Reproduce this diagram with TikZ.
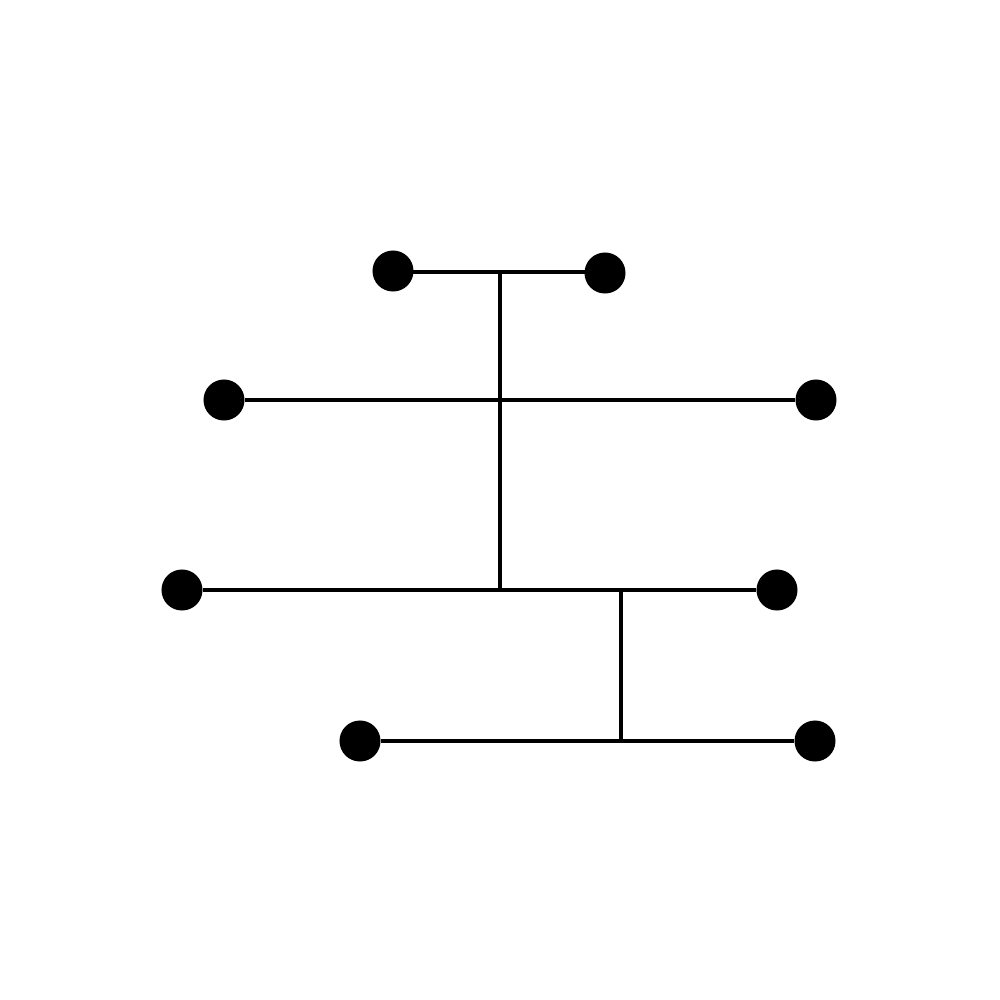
\documentclass[tikz,border=0pt]{standalone}
\usepackage{tikz}
\usetikzlibrary{positioning}
\tikzstyle{dot} = [circle, fill=black, draw=none, minimum size=0.41cm, inner sep=0pt]
\tikzstyle{wire} = [line width=1.4pt, draw=black]

\begin{document}
\begin{tikzpicture}[x=0.01cm, y=-0.01cm]
\useasboundingbox (0,0) rectangle (1000,1000);

\node (topL) [dot] at (393,271) {};
\node (topR) [dot] at (605,273) {};
\node (midL) [dot] at (224,400) {};
\node (midR) [dot] at (816,400) {};
\node (lowL) [dot] at (182,590) {};
\node (lowR) [dot] at (777,590) {};
\node (botL) [dot] at (360,741) {};
\node (botR) [dot] at (815,741) {};

\coordinate (trunkTop) at (500,272);
\coordinate (trunkBot) at (500,590);
\coordinate (branchTop) at (621,590);
\coordinate (branchBot) at (621,741);

\draw [wire] (topL.center |- trunkTop) -- (topR.center |- trunkTop);
\draw [wire] (midL) -- (midR);
\draw [wire] (lowL) -- (lowR);
\draw [wire] (botL) -- (botR);
\draw [wire] (trunkTop) -- (trunkBot);
\draw [wire] (branchTop) -- (branchBot);

\end{tikzpicture}
\end{document}
